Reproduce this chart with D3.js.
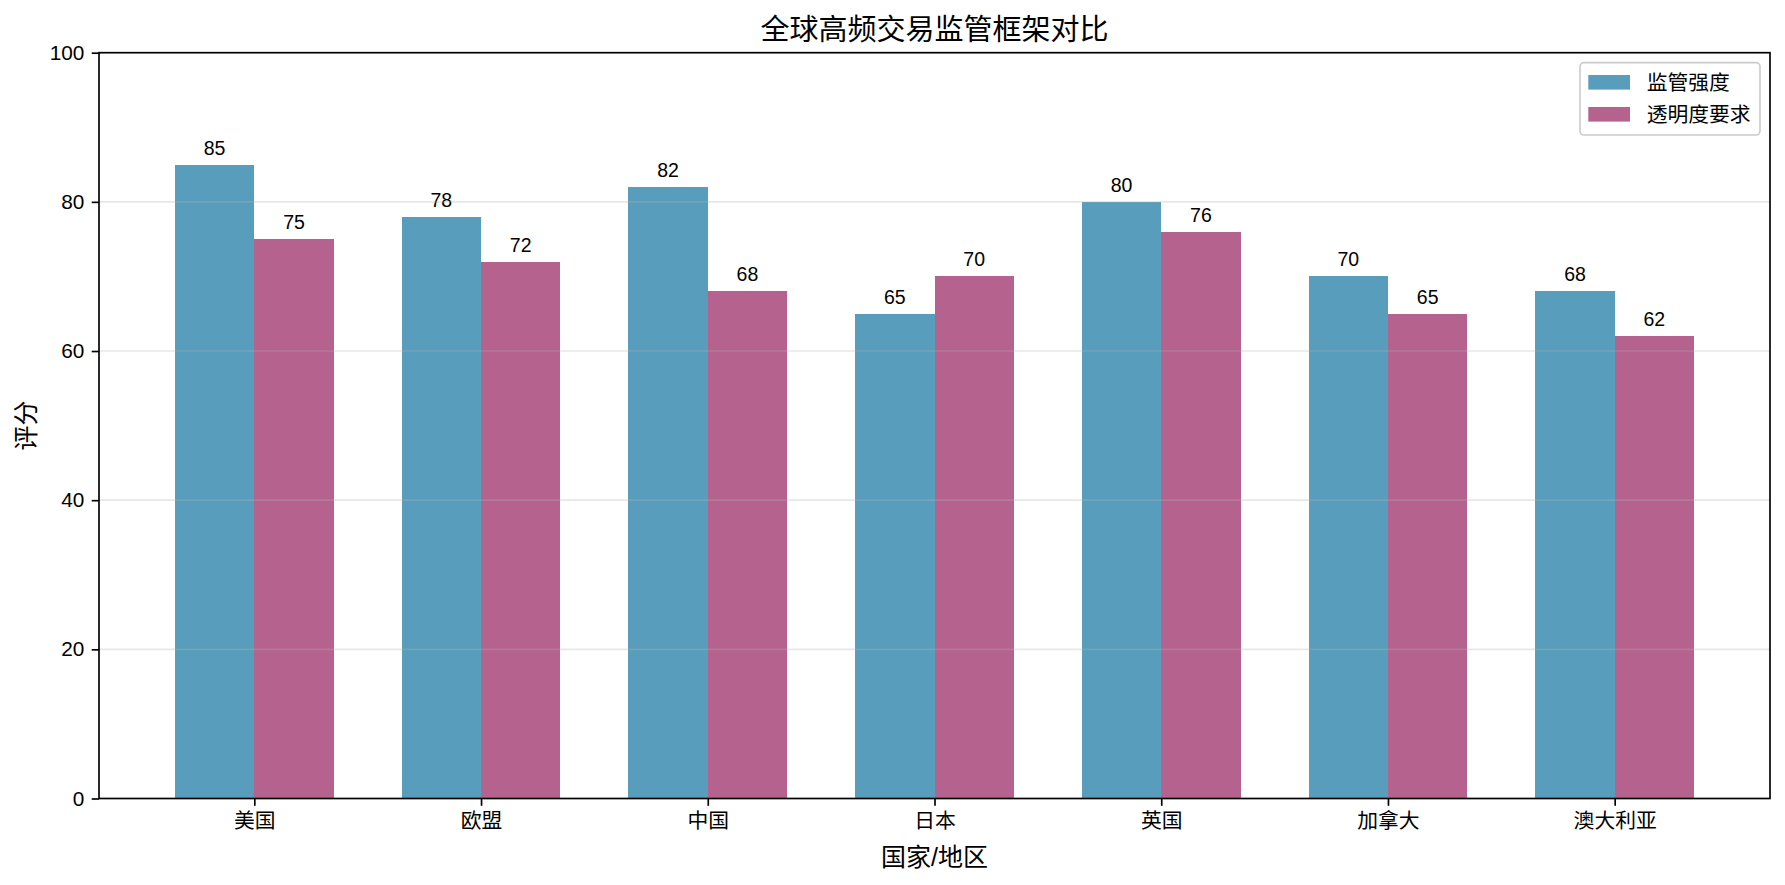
<!DOCTYPE html>
<html>
<head>
<meta charset="utf-8">
<script src="https://cdn.jsdelivr.net/npm/d3@7"></script>
<style>
  body { margin: 0; background: #fff; }
  text { font-family: "Liberation Sans", "Noto Sans CJK SC", sans-serif; fill: #000; }
</style>
</head>
<body>
<div id="chart"></div>
<script>
// data
const countries = ["美国", "欧盟", "中国", "日本", "英国", "加拿大", "澳大利亚"];
const strength = [85, 78, 82, 65, 80, 70, 68];
const transparency = [75, 72, 68, 70, 76, 65, 62];
const seriesNames = ["监管强度", "透明度要求"];
const yTicks = [0, 20, 40, 60, 80, 100];

const W = 1785, H = 885;
const margin = {top: 52.7, right: 15, bottom: 86.5, left: 99};
const width = W - margin.left - margin.right;
const height = H - margin.top - margin.bottom;
const colors = ["#2E86AB", "#A23B72"];
const barW = 0.35;
const pad = (countries.length - 1 + 2 * barW) * 0.05;

const svg = d3.select("#chart").append("svg")
    .attr("width", W)
    .attr("height", H);

const g = svg.append("g")
    .attr("transform", "translate(" + margin.left + "," + margin.top + ")");

const x = d3.scaleLinear()
    .domain([-barW - pad, countries.length - 1 + barW + pad])
    .range([0, width]);
const y = d3.scaleLinear()
    .domain([0, 100])
    .range([height, 0]);

// bars
const series = [strength, transparency];
series.forEach((vals, s) => {
    const off = s === 0 ? -barW / 2 : barW / 2;
    g.selectAll(".bar" + s)
        .data(vals)
        .enter()
        .append("rect")
        .attr("x", (d, i) => x(i + off - barW / 2))
        .attr("width", x(barW) - x(0))
        .attr("y", d => y(d))
        .attr("height", d => height - y(d))
        .attr("shape-rendering", "crispEdges")
        .style("fill", colors[s])
        .style("fill-opacity", 0.8);

    g.selectAll(".lab" + s)
        .data(vals)
        .enter()
        .append("text")
        .attr("x", (d, i) => x(i + off))
        .attr("y", d => y(d) - 10)
        .attr("text-anchor", "middle")
        .style("font-size", "19.5px")
        .text(d => d);
});

// grid over the bars, like matplotlib
g.selectAll(".grid")
    .data(yTicks)
    .enter()
    .append("line")
    .attr("x1", 0).attr("x2", width)
    .attr("y1", d => y(d)).attr("y2", d => y(d))
    .style("stroke", "#b0b0b0")
    .style("stroke-opacity", 0.3)
    .style("stroke-width", 1.67);

// axes
const yAxis = d3.axisLeft(y).tickValues(yTicks).tickSize(7.3).tickPadding(7.3);
g.append("g")
    .call(yAxis)
    .call(a => a.select(".domain").remove())
    .call(a => a.selectAll("line").style("stroke", "#000").style("stroke-width", 1.67))
    .call(a => a.selectAll("text").style("font-size", "20.8px").attr("font-family", null));

const xAxis = d3.axisBottom(x)
    .tickValues(d3.range(countries.length))
    .tickFormat(i => countries[i])
    .tickSize(7.3).tickPadding(7.3);
g.append("g")
    .attr("transform", "translate(0," + height + ")")
    .call(xAxis)
    .call(a => a.select(".domain").remove())
    .call(a => a.selectAll("line").style("stroke", "#000").style("stroke-width", 1.67))
    .call(a => a.selectAll("text").style("font-size", "20.8px").attr("font-family", null));

// frame
g.append("rect")
    .attr("width", width)
    .attr("height", height)
    .style("fill", "none")
    .style("stroke", "#000")
    .style("stroke-width", 1.67);

// title and axis labels
svg.append("text")
    .attr("x", margin.left + width / 2)
    .attr("y", 40)
    .attr("text-anchor", "middle")
    .style("font-size", "29px")
    .text("全球高频交易监管框架对比");

svg.append("text")
    .attr("x", margin.left + width / 2)
    .attr("y", 866)
    .attr("text-anchor", "middle")
    .style("font-size", "25px")
    .text("国家/地区");

svg.append("text")
    .attr("transform", "translate(35," + (margin.top + height / 2) + ") rotate(-90)")
    .attr("text-anchor", "middle")
    .style("font-size", "25px")
    .text("评分");

// legend
const leg = svg.append("g").attr("transform", "translate(1580,62.7)");
leg.append("rect")
    .attr("width", 180)
    .attr("height", 72.3)
    .attr("rx", 4)
    .style("fill", "#fff")
    .style("fill-opacity", 0.8)
    .style("stroke", "#cccccc")
    .style("stroke-width", 1.67);

seriesNames.forEach((name, i) => {
    leg.append("rect")
        .attr("x", 8.3)
        .attr("y", 12.3 + i * 32)
        .attr("width", 41.7)
        .attr("height", 14.6)
        .style("fill", colors[i])
        .style("fill-opacity", 0.8);
    leg.append("text")
        .attr("x", 66.7)
        .attr("y", 27 + i * 32)
        .style("font-size", "20.8px")
        .text(name);
});
</script>
</body>
</html>
